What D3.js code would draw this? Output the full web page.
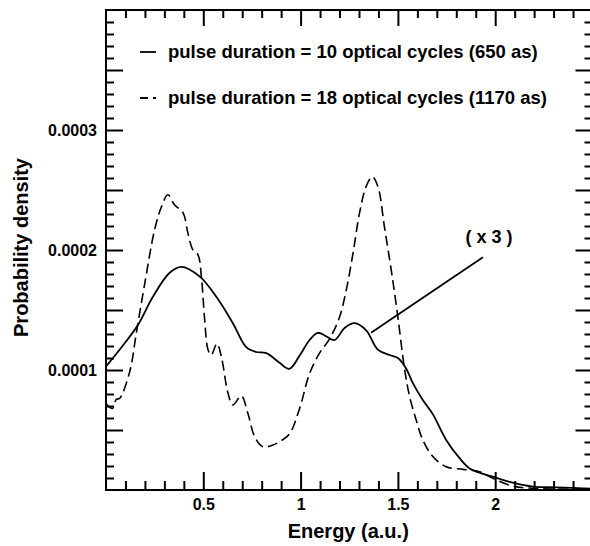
<!DOCTYPE html>
<html>
<head>
<meta charset="utf-8">
<script src="https://cdn.jsdelivr.net/npm/d3@7"></script>
<style>
    body { margin: 0; background: #fff; }
    svg { display: block; font-family: "Liberation Sans", Arial, Helvetica, sans-serif; font-weight: bold; }
    .tick line { stroke: #000; stroke-width: 2; }
    .tick text { fill: #000; font-size: 16px; }
</style>
</head>
<body>
<svg id="chart"></svg>
<script>
// energy in a.u., density in units of 1e-4
var shortEnergy = [0, 0.08, 0.164, 0.241, 0.327, 0.387, 0.481, 0.567, 0.652, 0.721, 0.772, 0.824, 0.892, 0.942, 0.995,
    1.046, 1.089, 1.132, 1.175, 1.226, 1.277, 1.337, 1.397, 1.457, 1.5, 1.543, 1.577, 1.628, 1.68, 1.748, 1.817,
    1.868, 1.919, 1.988, 2.09, 2.193, 2.313, 2.5];
var shortDensity = [1.03, 1.19, 1.375, 1.61, 1.81, 1.86, 1.78, 1.61, 1.39, 1.19, 1.15, 1.14, 1.06, 1.01, 1.12,
    1.25, 1.31, 1.28, 1.25, 1.35, 1.39, 1.33, 1.17, 1.125, 1.10, 1.01, 0.89, 0.75, 0.63, 0.417, 0.265,
    0.18, 0.145, 0.111, 0.061, 0.028, 0.022, 0.01];

var longEnergy = [0, 0.033, 0.053, 0.07, 0.122, 0.156, 0.199, 0.25, 0.285, 0.318, 0.353, 0.396, 0.421, 0.447, 0.473,
    0.49, 0.507, 0.524, 0.541, 0.57, 0.593, 0.627, 0.652, 0.695, 0.729, 0.764, 0.806, 0.858, 0.9, 0.944, 0.995,
    1.046, 1.097, 1.149, 1.2, 1.235, 1.269, 1.303, 1.337, 1.368, 1.397, 1.431, 1.466, 1.5, 1.534, 1.56, 1.594,
    1.628, 1.68, 1.748, 1.834, 1.919, 1.988, 2.09, 2.19, 2.5];
var longDensity = [0.72, 0.68, 0.756, 0.764, 0.986, 1.31, 1.72, 2.17, 2.36, 2.46, 2.375, 2.31, 2.14, 2.00, 1.96,
    1.78, 1.42, 1.17, 1.125, 1.22, 1.11, 0.806, 0.708, 0.783, 0.64, 0.444, 0.361, 0.375, 0.41, 0.47, 0.68,
    0.97, 1.14, 1.26, 1.44, 1.67, 1.97, 2.31, 2.53, 2.61, 2.53, 2.19, 1.83, 1.44, 1.01, 0.78, 0.583,
    0.417, 0.278, 0.194, 0.172, 0.153, 0.097, 0.033, 0.014, 0.005];

var legendLabels = ["pulse duration = 10 optical cycles (650 as)", "pulse duration = 18 optical cycles (1170 as)"];
var xMajorTicks = [0.5, 1, 1.5, 2];
var yMajorTicks = [0.5, 1, 1.5, 2, 2.5, 3, 3.5];
var yLabelTicks = [1, 2, 3];

var width = 590, height = 546;
var frame = { left: 106, right: 592.5, top: 10, bottom: 490 };

var svg = d3.select("#chart")
    .attr("width", width)
    .attr("height", height);

var x = d3.scaleLinear().domain([0, 2.5]).range([frame.left, frame.right]);
var y = d3.scaleLinear().domain([0, 4]).range([frame.bottom, frame.top]);

var xMinor = d3.range(1, 25).filter(function(i) { return i % 5 != 0; }).map(function(i) { return i / 10; });
var yMinor = d3.range(1, 40).filter(function(i) { return i % 5 != 0; }).map(function(i) { return i / 10; });

function noText(g) { g.select(".domain").remove(); g.selectAll("text").remove(); }

// bottom
svg.append("g").attr("transform", "translate(0," + frame.bottom + ")")
    .call(d3.axisBottom(x).tickValues(xMinor).tickSize(-9)).call(noText);
svg.append("g").attr("transform", "translate(0," + frame.bottom + ")")
    .call(d3.axisBottom(x).tickValues(xMajorTicks).tickSize(-18).tickPadding(9).tickFormat(d3.format("")))
    .call(function(g) { g.select(".domain").remove(); });
// top
svg.append("g").attr("transform", "translate(0," + frame.top + ")")
    .call(d3.axisTop(x).tickValues(xMinor).tickSize(-8)).call(noText);
svg.append("g").attr("transform", "translate(0," + frame.top + ")")
    .call(d3.axisTop(x).tickValues(xMajorTicks).tickSize(-16)).call(noText);
// left
svg.append("g").attr("transform", "translate(" + frame.left + ",0)")
    .call(d3.axisLeft(y).tickValues(yMinor).tickSize(-8)).call(noText);
svg.append("g").attr("transform", "translate(" + frame.left + ",0)")
    .call(d3.axisLeft(y).tickValues(yMajorTicks).tickSize(-17).tickPadding(9)
        .tickFormat(function(d) { return yLabelTicks.indexOf(d) >= 0 ? (d * 1e-4).toFixed(4) : ""; }))
    .call(function(g) { g.select(".domain").remove(); });
// right
svg.append("g").attr("transform", "translate(" + frame.right + ",0)")
    .call(d3.axisRight(y).tickValues(yMinor).tickSize(-8)).call(noText);
svg.append("g").attr("transform", "translate(" + frame.right + ",0)")
    .call(d3.axisRight(y).tickValues(yMajorTicks).tickSize(-17)).call(noText);

svg.append("rect")
    .attr("x", frame.left).attr("y", frame.top)
    .attr("width", frame.right - frame.left).attr("height", frame.bottom - frame.top)
    .attr("fill", "none").attr("stroke", "#000").attr("stroke-width", 2);

var line = d3.line()
    .x(function(d) { return x(d[0]); })
    .y(function(d) { return y(d[1]); })
    .curve(d3.curveCatmullRom.alpha(0.5));

svg.append("path")
    .datum(d3.zip(shortEnergy, shortDensity))
    .attr("d", line)
    .attr("fill", "none").attr("stroke", "#000").attr("stroke-width", 1.8);

svg.append("path")
    .datum(d3.zip(longEnergy, longDensity))
    .attr("d", line)
    .attr("fill", "none").attr("stroke", "#000").attr("stroke-width", 1.6)
    .attr("stroke-dasharray", "10,5");

// legend
var legend = svg.selectAll(".legend").data(legendLabels)
    .enter().append("g")
    .attr("class", "legend")
    .attr("transform", function(d, i) { return "translate(140," + (52 + i * 46) + ")"; });
legend.append("line")
    .attr("x1", 0).attr("x2", 16).attr("y1", 0).attr("y2", 0)
    .attr("stroke", "#000").attr("stroke-width", 1.8)
    .attr("stroke-dasharray", function(d, i) { return i == 1 ? "8,5" : null; });
legend.append("text")
    .attr("x", 28).attr("y", 6)
    .attr("font-size", "18.5px")
    .text(function(d) { return d; });

// (x 3) annotation
svg.append("line")
    .attr("x1", x(1.937)).attr("y1", y(1.94))
    .attr("x2", x(1.362)).attr("y2", y(1.31))
    .attr("stroke", "#000").attr("stroke-width", 1.8);
svg.append("text")
    .attr("x", x(1.968)).attr("y", y(2.06))
    .attr("text-anchor", "middle")
    .attr("font-size", "18px")
    .text("( x 3 )");

// axis titles
svg.append("text")
    .attr("x", (frame.left + frame.right) / 2 - 1).attr("y", 538)
    .attr("text-anchor", "middle")
    .attr("font-size", "20px")
    .text("Energy (a.u.)");
svg.append("text")
    .attr("transform", "translate(28," + 247.5 + ") rotate(-90)")
    .attr("text-anchor", "middle")
    .attr("font-size", "20px")
    .text("Probability density");
</script>
</body>
</html>
